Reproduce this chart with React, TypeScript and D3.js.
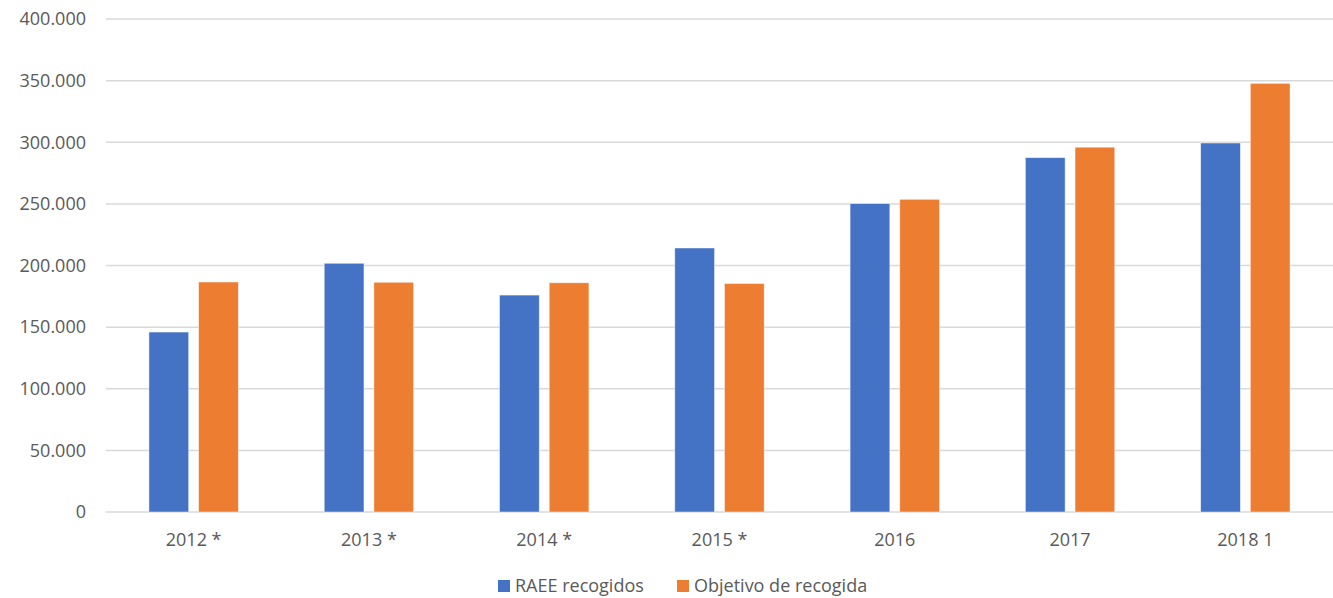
import { useEffect, useRef } from 'react';
import * as d3 from 'd3';

const categories = ['2012 *', '2013 *', '2014 *', '2015 *', '2016', '2017', '2018 1'];
const raeeRecogidos = [146000, 201800, 176000, 214200, 250200, 287500, 299400];
const objetivoRecogida = [186600, 186400, 186000, 185400, 253700, 296000, 347800];
const yTicks = [0, 50000, 100000, 150000, 200000, 250000, 300000, 350000, 400000];
const seriesNames = ['RAEE recogidos', 'Objetivo de recogida'];
const colors = ['#4472C4', '#ED7D31'];

const W = 1333;
const H = 598;
const FONT = '"Open Sans", sans-serif';
const FS = 18;

const App = () => {
    const chartRef = useRef<HTMLDivElement>(null);

    useEffect(() => {
        const svg = d3.select(chartRef.current)
            .append('svg')
            .attr('width', W)
            .attr('height', H)
            .style('position', 'absolute')
            .style('left', 0)
            .style('top', 0)
            .style('background', '#fff');

        const left = 106, right = 1333, top = 19, bottom = 512;

        const x0 = d3.scaleBand()
            .domain(categories)
            .range([left, right])
            .paddingInner(0.49)
            .paddingOuter(0.245);

        const x1 = d3.scaleBand()
            .domain(seriesNames)
            .range([0, x0.bandwidth()])
            .padding(0.2)
            .paddingOuter(0);

        const y = d3.scaleLinear()
            .domain([0, 400000])
            .range([bottom, top]);

        const fmt = (v: number) => d3.format(',')(v).replace(/,/g, '.');

        // gridlines
        svg.append('g')
            .selectAll('line')
            .data(yTicks)
            .enter()
            .append('line')
            .attr('x1', left)
            .attr('x2', right)
            .attr('y1', d => y(d))
            .attr('y2', d => y(d))
            .attr('stroke', '#d9d9d9')
            .attr('stroke-width', 1.5);

        // y labels
        svg.append('g')
            .selectAll('text')
            .data(yTicks)
            .enter()
            .append('text')
            .attr('x', 86)
            .attr('y', d => y(d))
            .attr('dy', '0.35em')
            .attr('text-anchor', 'end')
            .attr('font-family', FONT)
            .attr('font-size', FS)
            .attr('fill', '#595959')
            .text(d => fmt(d));

        const rows = categories.map((c, i) => ({ cat: c, values: [raeeRecogidos[i], objetivoRecogida[i]] }));

        const groups = svg.append('g')
            .selectAll('g')
            .data(rows)
            .enter()
            .append('g')
            .attr('transform', d => `translate(${x0(d.cat)},0)`);

        groups.selectAll('rect')
            .data(d => d.values.map((v, j) => ({ name: seriesNames[j], v, j })))
            .enter()
            .append('rect')
            .attr('x', d => x1(d.name)!)
            .attr('y', d => y(d.v))
            .attr('width', x1.bandwidth())
            .attr('height', d => bottom - y(d.v))
            .attr('fill', d => colors[d.j])
            .attr('stroke', '#fff')
            .attr('stroke-opacity', 0.6)
            .attr('stroke-width', 0.75);

        // x labels
        svg.append('g')
            .selectAll('text')
            .data(categories)
            .enter()
            .append('text')
            .attr('x', d => x0(d)! + x0.bandwidth() / 2)
            .attr('y', 546)
            .attr('text-anchor', 'middle')
            .attr('font-family', FONT)
            .attr('font-size', FS)
            .attr('fill', '#595959')
            .text(d => d);

        // legend
        const legendX = [498, 677];
        const legend = svg.append('g')
            .selectAll('g')
            .data(seriesNames)
            .enter()
            .append('g')
            .attr('transform', (d, i) => `translate(${legendX[i]},580)`);

        legend.append('rect')
            .attr('width', 12)
            .attr('height', 12)
            .attr('fill', (d, i) => colors[i]);

        legend.append('text')
            .attr('x', 17)
            .attr('y', 12)
            .attr('font-family', FONT)
            .attr('font-size', FS)
            .attr('fill', '#595959')
            .text(d => d);

        return () => {
            d3.select(chartRef.current).select('svg').remove();
        };
    }, []);

    return <div ref={chartRef}></div>;
};

export default App;
